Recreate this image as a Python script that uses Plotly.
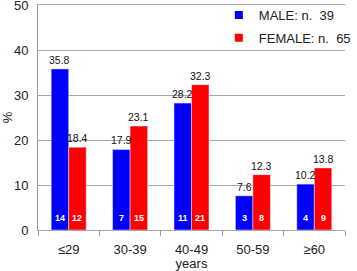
import plotly.graph_objects as go

categories = ["≤29", "30-39", "40-49", "50-59", "≥60"]
male_pct = [35.8, 17.9, 28.2, 7.6, 10.2]
female_pct = [18.4, 23.1, 32.3, 12.3, 13.8]
male_n = [14, 7, 11, 3, 4]
female_n = [12, 15, 21, 8, 9]
male_name = "MALE: n.  39"
female_name = "FEMALE: n.  65"

FONT = "Liberation Sans, Arial, Helvetica, sans-serif"
BLUE = "#0000ff"
RED = "#ff0000"

W, H = 357, 271
ML, MR, MT, MB = 38, 12, 5, 41
plot_w = W - ML - MR
bargap = 0.43
bar_px = plot_w / len(categories) * (1 - bargap) / 2

fig = go.Figure()
fig.add_trace(go.Bar(x=categories, y=male_pct, name=male_name, marker_color=BLUE, showlegend=False))
fig.add_trace(go.Bar(x=categories, y=female_pct, name=female_name, marker_color=RED, showlegend=False))
# legend entries with small square swatches
fig.add_trace(go.Scatter(x=[categories[0]], y=[None], mode="markers", name=male_name,
                         legendgroup="m", marker=dict(symbol="square", size=8, color=BLUE)))
fig.add_trace(go.Scatter(x=[categories[0]], y=[None], mode="markers", name=female_name,
                         legendgroup="f", marker=dict(symbol="square", size=8, color=RED)))

for vals, counts, shift in ((male_pct, male_n, -bar_px / 2), (female_pct, female_n, bar_px / 2)):
    for c, v, n in zip(categories, vals, counts):
        fig.add_annotation(
            x=c, y=v, text=f"{v:.1f}", showarrow=False, xshift=shift,
            yanchor="bottom", yshift=1,
            font=dict(size=10.5, color="#111", family=FONT),
        )
        fig.add_annotation(
            x=c, y=0, text=f"<b>{n}</b>", showarrow=False, xshift=shift,
            yanchor="bottom", yshift=5,
            font=dict(size=9, color="white", family=FONT),
        )

fig.update_layout(
    width=W, height=H,
    margin=dict(l=ML, r=MR, t=MT, b=MB, pad=0, autoexpand=False),
    paper_bgcolor="white", plot_bgcolor="white",
    barmode="group", bargap=bargap, bargroupgap=0,
    font=dict(family=FONT, size=13, color="#222"),
    showlegend=True,
    legend=dict(
        xref="container", yref="container",
        x=0.613, y=1.0, xanchor="left", yanchor="top",
        bgcolor="rgba(0,0,0,0)", font=dict(size=13, color="#222"),
        itemwidth=30, tracegroupgap=3, traceorder="grouped",
    ),
    xaxis=dict(
        range=[-0.5, len(categories) - 0.5],
        showline=True, linecolor="#a8a8a8", linewidth=1, mirror=True,
        ticks="outside", tickson="boundaries", ticklen=5, tickcolor="#999",
        tickfont=dict(size=13, color="#222"), ticklabelstandoff=7,
        title=dict(text="years", font=dict(size=13, color="#222"), standoff=1),
        automargin=False, showgrid=False,
    ),
    yaxis=dict(
        range=[0, 50], tickvals=[0, 10, 20, 30, 40, 50], showgrid=True,
        gridcolor="#a8a8a8", gridwidth=1,
        showline=True, linecolor="#999", linewidth=1, ticks="",
        tickfont=dict(size=13, color="#222"), ticklabelstandoff=6,
        ticklabeloverflow="allow",
        title=dict(text="%", font=dict(size=13, color="#222"), standoff=2),
        automargin=False, zeroline=False,
    ),
)

fig.write_html("out.html", config={"displayModeBar": False},
               post_script="document.body.style.margin='0';")
